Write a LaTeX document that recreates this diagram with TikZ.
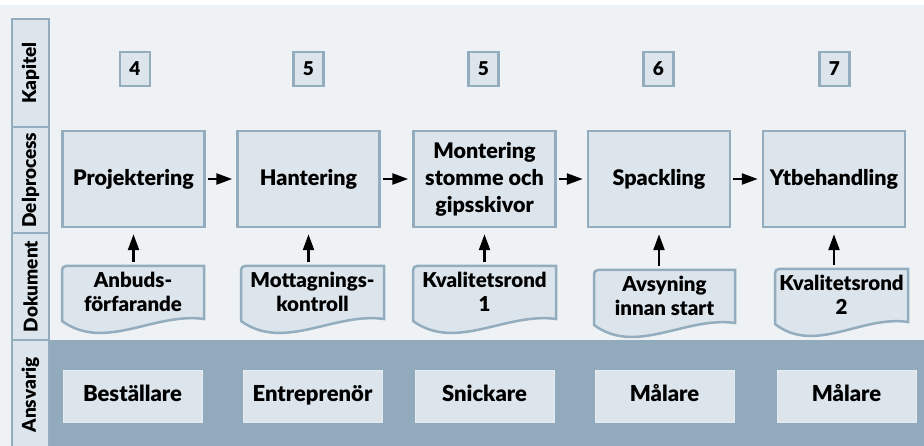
\documentclass[tikz,border=0pt]{standalone}
\usepackage{fontspec}
\setmainfont{Lato}[BoldFont={Lato Black}]
\usetikzlibrary{arrows.meta}
\definecolor{bakgrund}{RGB}{238,242,245}
\definecolor{ruta}{RGB}{220,228,236}
\definecolor{kant}{RGB}{147,173,191}
\definecolor{band}{RGB}{145,171,188}
\tikzset{
    kantlinje/.style={draw=kant,line width=2.5pt,fill=ruta},
    process/.style={kantlinje,minimum width=142pt,minimum height=96pt,inner sep=0pt,align=center,font=\bfseries\fontsize{21.5}{27}\selectfont},
    kapitel/.style={kantlinje,minimum width=30pt,minimum height=34pt,inner sep=0pt,font=\bfseries\fontsize{19}{20}\selectfont},
    doktext/.style={minimum height=51pt,inner sep=0pt,align=center,font=\bfseries\fontsize{20.5}{24}\selectfont},
    ansvar/.style={fill=ruta,draw=ruta!70!white,line width=1pt,minimum width=139pt,minimum height=51pt,text height=15pt,text depth=4pt,font=\bfseries\fontsize{22}{24}\selectfont},
    rubrik/.style={kantlinje,rotate=90,minimum height=37pt,inner sep=0pt,font=\bfseries\fontsize{19}{20}\selectfont},
    pil/.style={line width=2.4pt,-{Triangle[length=16pt,width=11pt]}}
}
\newcommand{\dokument}[4]{
    \begin{scope}[shift={(#2)}]
        \filldraw[kantlinje] (-#3/2,0) -- (#3/2,0) -- (#3/2,53) .. controls (#3*0.15,46) and (-#3*0.2,86) .. (-#3/2,55) [rounded corners=4pt] -- (-#3/2,51) -- cycle;
        \node[doktext,minimum width=#3pt] (#1) at (0,25.5) {#4};
    \end{scope}
}
\begin{document}
\begin{tikzpicture}[x=1pt,y=-1pt]
        \clip (0,0) rectangle (924,446);
        \fill[white] (0,0) rectangle (924,446);
        \fill[bakgrund] (0,5) rectangle (924,446);
        \fill[band] (48,340) rectangle (924,446);

        % radrubriker
        \node[rubrik,minimum width=108pt] (kapitelrad) at (30.5,73) {Kapitel};
        \node[rubrik,minimum width=106pt] (delprocessrad) at (30.5,180) {Delprocess};
        \node[rubrik,minimum width=107pt] (dokumentrad) at (30.5,286.5) {Dokument};
        \node[rubrik,minimum width=110pt] (ansvarigrad) at (30.5,395) {Ansvarig};

        % kapitel
        \node[kapitel] (kap4) at (135,69) {4};
        \node[kapitel] (kap5a) at (308.5,69) {5};
        \node[kapitel] (kap5b) at (483.5,69) {5};
        \node[kapitel] (kap6) at (658.5,69) {6};
        \node[kapitel] (kap7) at (834.5,69) {7};

        % delprocesser
        \node[process] (projektering) at (133.5,179) {Projektering};
        \node[process] (hantering) at (308.5,179) {Hantering};
        \node[process] (montering) at (484.5,179) {Montering\\stomme och\\gipsskivor};
        \node[process] (spackling) at (659,179) {Spackling};
        \node[process] (ytbehandling) at (834,179) {Ytbehandling};

        \draw[pil,shorten <=2pt,shorten >=4pt] (projektering) -- (hantering);
        \draw[pil,shorten <=2pt,shorten >=4pt] (hantering) -- (montering);
        \draw[pil,shorten <=2pt,shorten >=4pt] (montering) -- (spackling);
        \draw[pil,shorten <=2pt,shorten >=4pt] (spackling) -- (ytbehandling);

        % dokument
        \dokument{anbud}{133,266}{142}{Anbuds-\\förfarande}
        \dokument{mottagning}{312.5,266}{143}{Mottagnings-\\kontroll}
        \dokument{kvalitet1}{484.5,266}{143}{Kvalitetsrond\\1}
        \dokument{avsyning}{664.5,270}{141}{Avsyning\\innan start}
        \dokument{kvalitet2}{841.5,269}{133}{Kvalitetsrond\\2}

        \draw[pil,shorten <=4pt,shorten >=6pt] (anbud.north -| projektering.south) -- (projektering.south);
        \draw[pil,shorten <=4pt,shorten >=6pt] (mottagning.north -| hantering.south) -- (hantering.south);
        \draw[pil,shorten <=4pt,shorten >=6pt] (kvalitet1.north -| montering.south) -- (montering.south);
        \draw[pil,shorten <=4pt,shorten >=6pt] (avsyning.north -| spackling.south) -- (spackling.south);
        \draw[pil,shorten <=4pt,shorten >=6pt] (kvalitet2.north -| ytbehandling.south) -- (ytbehandling.south);

        % ansvarig
        \node[ansvar] (bestallare) at (132.5,396.5) {Beställare};
        \node[ansvar] (entreprenor) at (312.5,396.5) {Entreprenör};
        \node[ansvar] (snickare) at (484.5,396.5) {Snickare};
        \node[ansvar] (malare1) at (664.5,396.5) {Målare};
        \node[ansvar] (malare2) at (846.5,396.5) {Målare};
\end{tikzpicture}
\end{document}
